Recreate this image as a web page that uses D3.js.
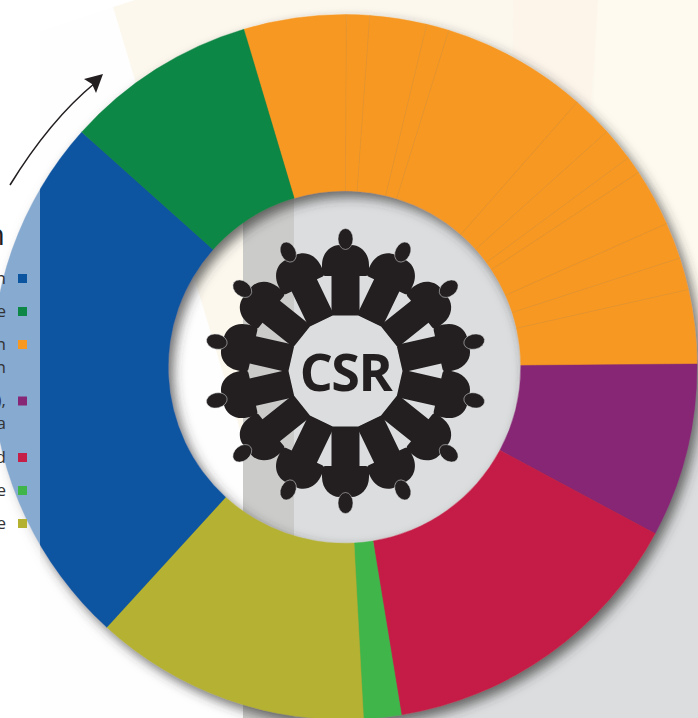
<!DOCTYPE html>
<html>
<head>
<meta charset="utf-8">
<script src="https://cdn.jsdelivr.net/npm/d3@7"></script>
<style>
  html, body { margin: 0; padding: 0; background: #fff; overflow: hidden; }
  svg { display: block; }
</style>
</head>
<body>
<svg id="svg-csr"></svg>
<script>
var width = 698,
    height = 718,
    cx = 344.5,
    cy = 367,
    outerRadius = 352.5,
    innerRadius = 176.3,
    startDeg = -16.6;

// slice sizes, clockwise from the start of the orange group
var sliceValues = [16.9, 3.8, 9.4, 3.7, 24.1, 6.8, 5.5, 2.9, 9.5, 6, 5.3, 12.2, 28.7, 52.5, 6.2, 45.5, 89.4, 31.6];
var sliceGroups = ['orange', 'orange', 'orange', 'orange', 'orange', 'orange', 'orange', 'orange', 'orange', 'orange', 'orange', 'orange',
                   'purple', 'red', 'lightgreen', 'olive', 'blue', 'green'];

// legend, top to bottom. the labels are cut by the page edge, only their ends show
var legendGroups = ['blue', 'green', 'orange', 'purple', 'red', 'lightgreen', 'olive'];
var legendLabels = [['n'], ['e'], ['n', 'n'], ['),', 'a'], ['d'], ['e'], ['e']];
var legendTitle = 'n';

var groupNames = ['blue', 'green', 'orange', 'purple', 'red', 'lightgreen', 'olive'];
var groupColors = ['#0a54a0', '#0d8745', '#f79820', '#872675', '#c51f47', '#40b549', '#b5b130'];

var color = d3.scaleOrdinal().domain(groupNames).range(groupColors);

var svg = d3.select('#svg-csr').attr('width', width).attr('height', height);

drawBackground();
drawRing();
drawPeople();
drawArrow();
drawLegend();


function drawBackground() {
  svg.append('rect').attr('width', width).attr('height', height).attr('fill', '#fff');

  let panels = [
    {fill: '#fefefe', pts: [[0, 45], [113, 7], [243, 440], [243, 718], [0, 718]]},
    {fill: '#fcf8ee', pts: [[113, 7], [135, 0], [698, 0], [698, 440], [243, 440]]},
    {fill: '#fefaef', pts: [[598, 0], [698, 0], [698, 440], [580, 440]]},
    {fill: '#fdf5ea', pts: [[513, 0], [598, 0], [590, 120], [512, 120]]},
    // the top of the grey panels stays hidden behind the ring
    {fill: '#cbcbc9', pts: [[243, 100], [294, 100], [294, 718], [243, 718]]},
    {fill: '#dcddde', pts: [[294, 100], [698, 360], [698, 718], [294, 718]]}
  ];
  svg.append('g').selectAll('polygon')
    .data(panels)
    .enter().append('polygon')
    .attr('points', d => d.pts.join(' '))
    .attr('fill', d => d.fill);
}

function drawRing() {
  let defs = svg.append('defs');
  let shadow = defs.append('filter').attr('id', 'ring-shadow')
    .attr('x', '-20%').attr('y', '-20%').attr('width', '140%').attr('height', '140%');
  shadow.append('feDropShadow')
    .attr('dx', 5).attr('dy', 6).attr('stdDeviation', 6)
    .attr('flood-color', '#333').attr('flood-opacity', 0.7);

  let pie = d3.pie().sort(null).value(d => d)
    .startAngle(startDeg * Math.PI / 180)
    .endAngle((startDeg + 360) * Math.PI / 180);
  let arc = d3.arc().innerRadius(innerRadius).outerRadius(outerRadius);
  let slices = pie(sliceValues);

  let g = svg.append('g')
    .attr('transform', 'translate(' + cx + ',' + cy + ')')
    .attr('filter', 'url(#ring-shadow)');

  g.selectAll('path')
    .data(slices)
    .enter().append('path')
    .attr('d', arc)
    .attr('fill', (d, i) => color(sliceGroups[i]))
    .attr('stroke', (d, i) => color(sliceGroups[i]))
    .attr('stroke-width', 0.4);

  // thin hairlines between the orange parts
  let seps = slices.filter((d, i) => i > 0 && sliceGroups[i] == 'orange');
  g.selectAll('line')
    .data(seps)
    .enter().append('line')
    .attr('x1', d => innerRadius * Math.sin(d.startAngle))
    .attr('y1', d => -innerRadius * Math.cos(d.startAngle))
    .attr('x2', d => outerRadius * Math.sin(d.startAngle))
    .attr('y2', d => -outerRadius * Math.cos(d.startAngle))
    .attr('stroke', '#d8933a')
    .attr('stroke-width', 0.5);

  // washed out strip the legend sits on
  svg.append('rect')
    .attr('width', 40).attr('height', height)
    .attr('fill', '#fff').attr('opacity', 0.5);
}

function drawPeople() {
  let dark = '#231f20',
      n = 14,
      icon = svg.append('g').attr('transform', 'translate(345.5,371)');

  let fig = d3.path();
  fig.moveTo(-14, -55);
  fig.lineTo(-14, -95);
  fig.lineTo(-20, -95);
  fig.bezierCurveTo(-22, -95, -23.5, -97, -23.5, -100);
  fig.lineTo(-23.5, -106);
  fig.bezierCurveTo(-23.5, -118, -15, -126, -6, -126);
  fig.lineTo(6, -126);
  fig.bezierCurveTo(15, -126, 23.5, -118, 23.5, -106);
  fig.lineTo(23.5, -100);
  fig.bezierCurveTo(23.5, -97, 22, -95, 20, -95);
  fig.lineTo(14, -95);
  fig.lineTo(14, -55);
  fig.closePath();

  let people = icon.selectAll('g.person')
    .data(d3.range(n))
    .enter().append('g')
    .attr('class', 'person')
    .attr('transform', d => 'rotate(' + d * 360 / n + ')');
  people.append('path').attr('d', fig.toString()).attr('fill', dark);
  people.append('ellipse')
    .attr('cx', 0).attr('cy', -132)
    .attr('rx', 7.5).attr('ry', 10.5)
    .attr('fill', dark)
    .attr('stroke', '#dcddde').attr('stroke-width', 0.5);

  // 14 sided plate in the middle, the bodies start at its edge
  let plate = d3.range(n).map(i => {
    let a = (i + 0.5) * 2 * Math.PI / n;
    return [57 * Math.sin(a), -57 * Math.cos(a)];
  });
  icon.append('polygon').attr('points', plate.join(' ')).attr('fill', '#dcddde');

  icon.append('text')
    .attr('x', 0).attr('y', 20)
    .attr('text-anchor', 'middle')
    .attr('font-family', '"Open Sans", sans-serif')
    .attr('font-weight', 700)
    .attr('font-size', 52)
    .attr('letter-spacing', -1.5)
    .attr('fill', dark)
    .text('CSR');
}

function drawArrow() {
  let p = d3.path();
  p.moveTo(10, 185);
  p.quadraticCurveTo(50, 120, 95, 83);
  svg.append('path')
    .attr('d', p.toString())
    .attr('fill', 'none')
    .attr('stroke', '#231f20')
    .attr('stroke-width', 1.6);
  svg.append('polygon')
    .attr('points', '103,74 84,79 92,84 96,93')
    .attr('fill', '#231f20');
}

function drawLegend() {
  let step = 33,
      extraLine = 23.5,
      y = 278.5,
      font = '"Open Sans", sans-serif',
      g = svg.append('g');

  g.append('text')
    .attr('x', 5).attr('y', 245)
    .attr('text-anchor', 'end')
    .attr('font-family', font)
    .attr('font-size', 30)
    .attr('fill', '#231f20')
    .text(legendTitle);

  legendGroups.forEach((name, i) => {
    g.append('rect')
      .attr('x', 18).attr('y', y - 4.5)
      .attr('width', 9).attr('height', 9)
      .attr('fill', color(name));
    legendLabels[i].forEach((label, j) => {
      g.append('text')
        .attr('x', 6).attr('y', y + 5 + j * 23)
        .attr('text-anchor', 'end')
        .attr('font-family', font)
        .attr('font-size', 17)
        .attr('fill', '#333335')
        .text(label);
    });
    y += step + (legendLabels[i].length - 1) * extraLine;
  });
}
</script>
</body>
</html>
